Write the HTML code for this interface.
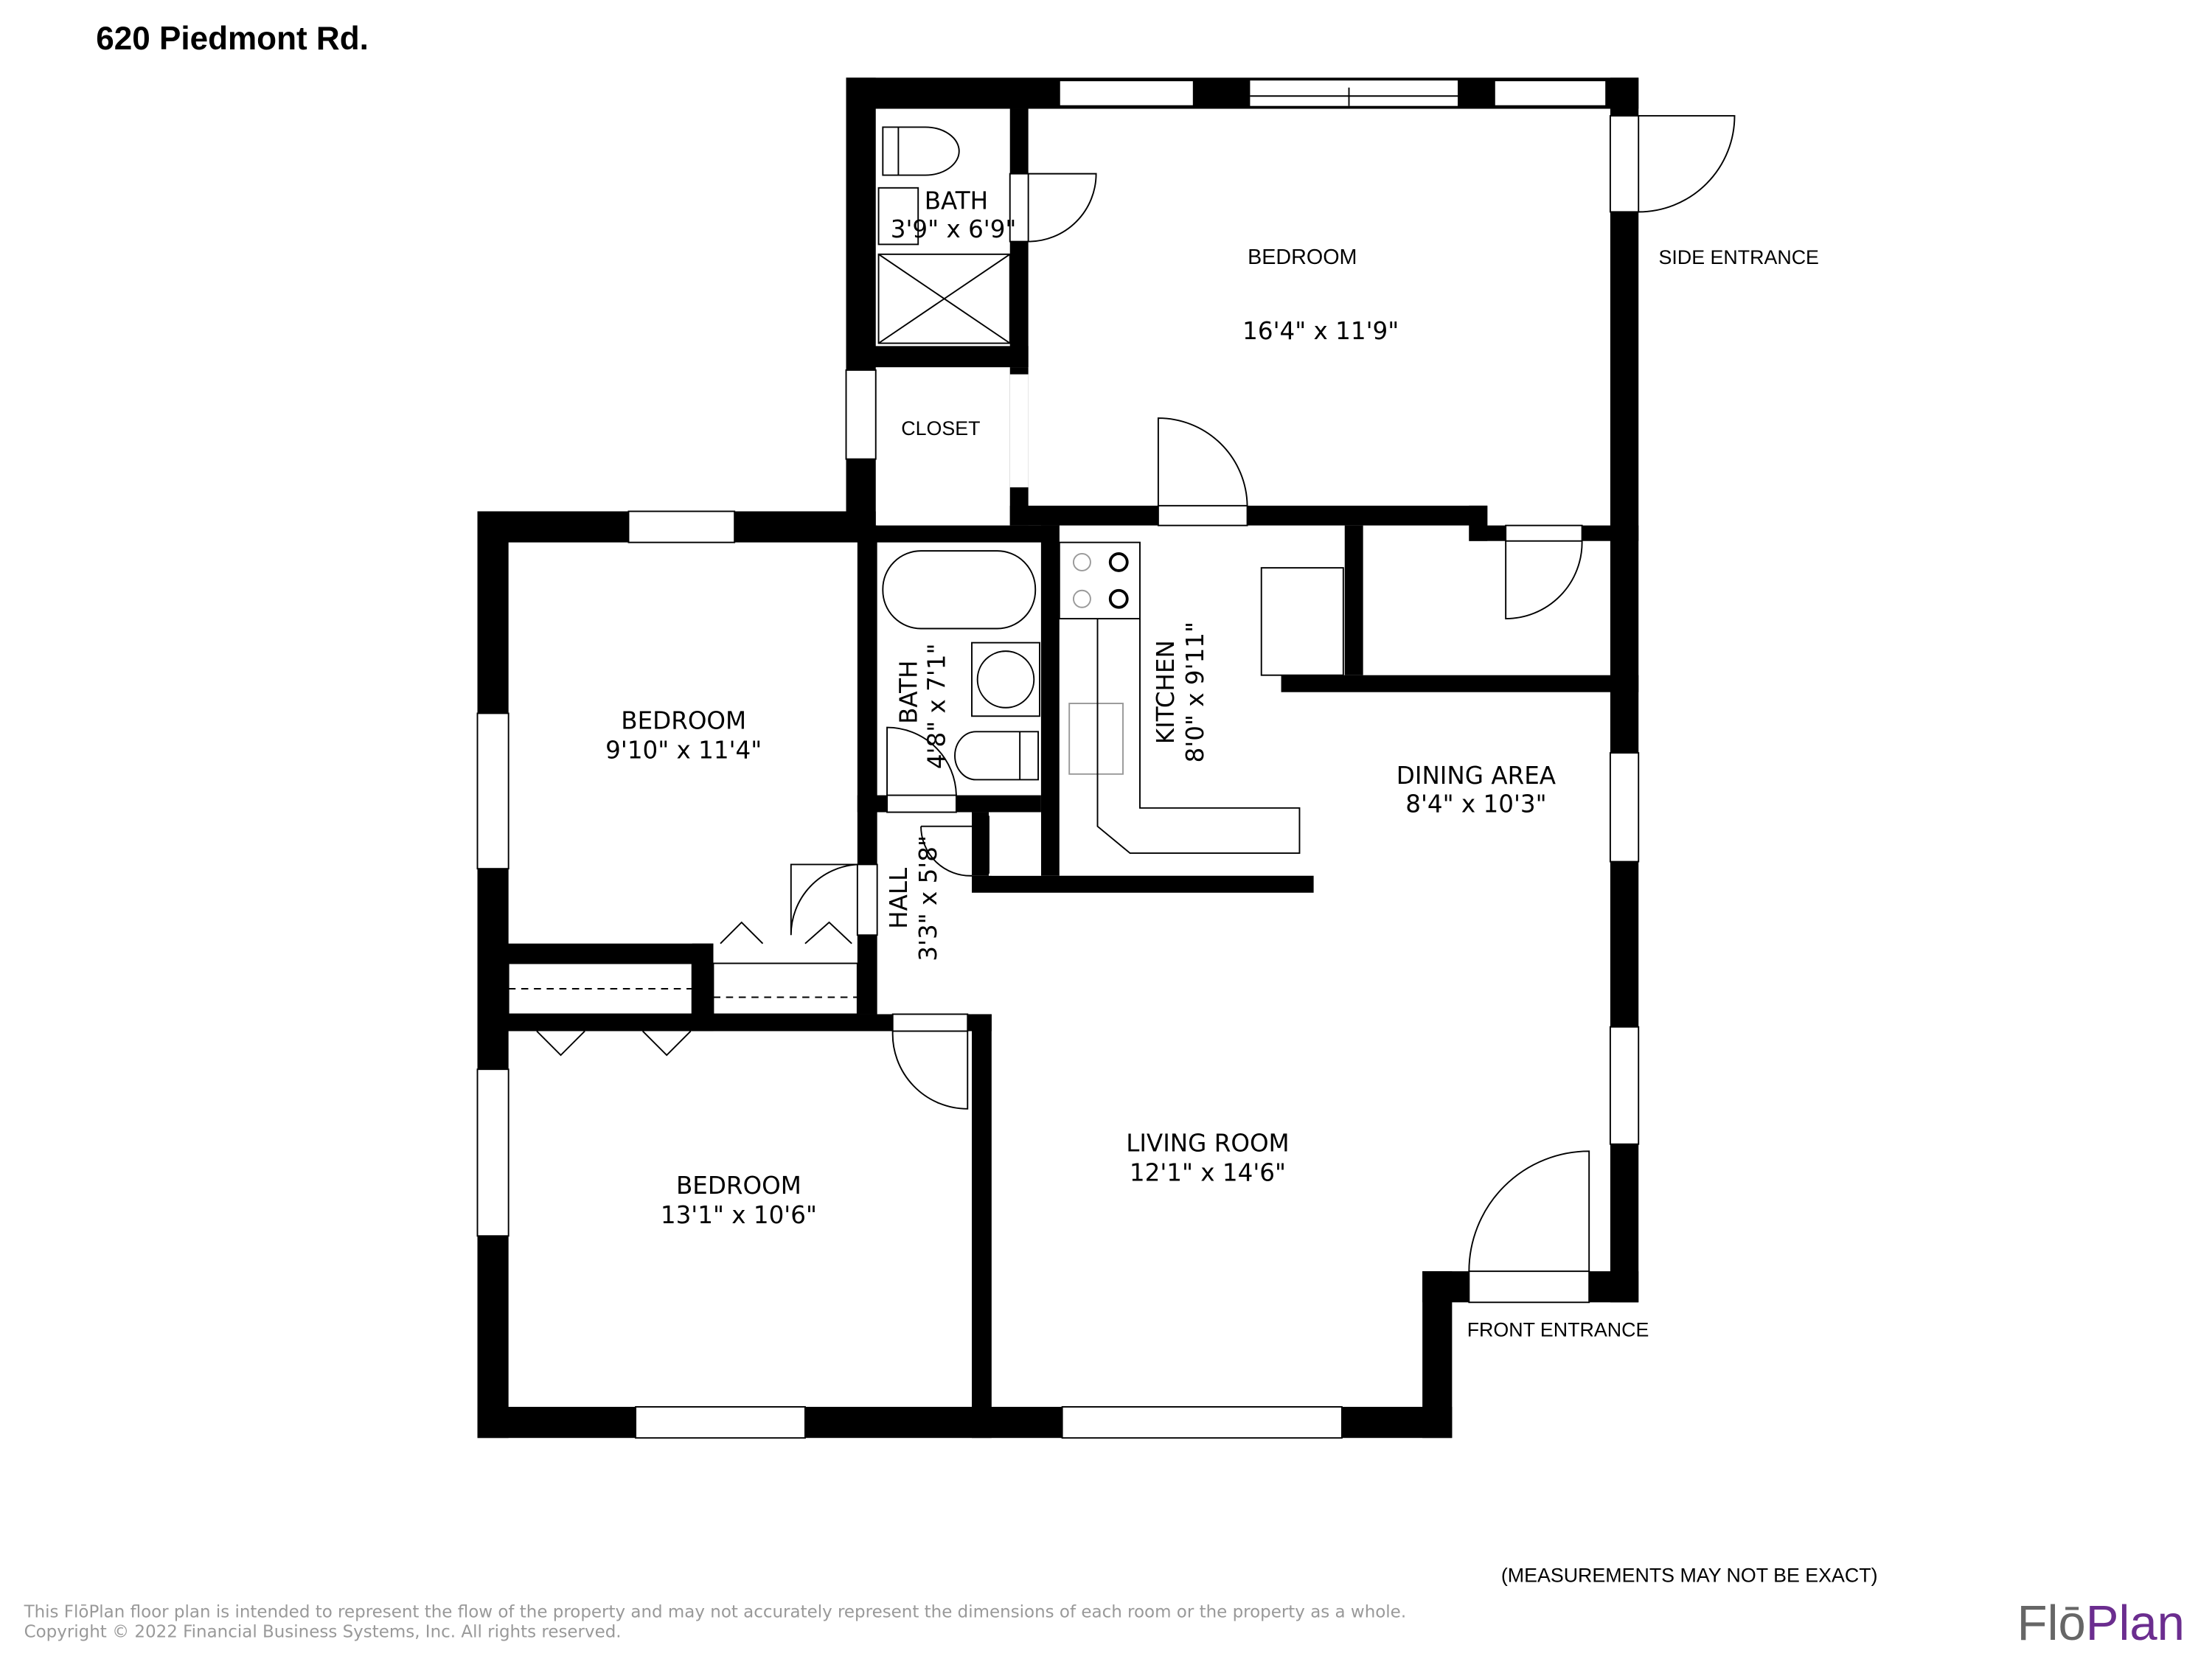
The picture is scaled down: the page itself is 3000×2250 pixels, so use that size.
<!DOCTYPE html>
<html><head><meta charset="utf-8"><style>
html,body{margin:0;padding:0;background:#fff;}
svg{display:block;}
text{font-family:"DejaVu Sans","Liberation Sans",sans-serif;fill:#000;}
.a{font-family:"Liberation Sans",sans-serif;}
</style></head><body>
<svg width="3000" height="2250" viewBox="0 0 1566 1174.5" xmlns="http://www.w3.org/2000/svg">
<rect width="1566" height="1175" fill="#fff"/>
<text x="68" y="35" class="a" font-size="23" font-weight="bold">620 Piedmont Rd.</text>
<g fill="#000">
<rect x="599" y="55" width="561" height="22"/>
<rect x="599" y="55" width="21" height="317"/>
<rect x="1140" y="55" width="20" height="867"/>
<rect x="715" y="77" width="13" height="183"/>
<rect x="599" y="245" width="129" height="15"/>
<rect x="715" y="260" width="13" height="112"/>
<rect x="715" y="358" width="338" height="14"/>
<rect x="1040" y="358" width="13" height="25"/>
<rect x="1040" y="372" width="120" height="11"/>
<rect x="338" y="362" width="282" height="22"/>
<rect x="338" y="362" width="22" height="656"/>
<rect x="607" y="372" width="143" height="12"/>
<rect x="607" y="372" width="14" height="346"/>
<rect x="737" y="372" width="13" height="248"/>
<rect x="607" y="563" width="130" height="12"/>
<rect x="688" y="575" width="14" height="45"/>
<rect x="688" y="620" width="242" height="12"/>
<rect x="952" y="372" width="13" height="106"/>
<rect x="907" y="478" width="253" height="12"/>
<rect x="338" y="668" width="167" height="14"/>
<rect x="490" y="668" width="15" height="62"/>
<rect x="338" y="718" width="364" height="12"/>
<rect x="688" y="718" width="14" height="300"/>
<rect x="338" y="996" width="690" height="22"/>
<rect x="1007" y="900" width="21" height="118"/>
<rect x="1007" y="900" width="153" height="22"/>
</g>
<g fill="#fff" stroke="#000" stroke-width="1">
<rect x="750" y="57" width="95" height="18"/>
<rect x="1058" y="57" width="79" height="18"/>
<rect x="885" y="57" width="147" height="18" stroke="none"/>
<rect x="1140" y="82" width="20" height="68"/>
<rect x="715" y="123" width="13" height="48"/>
<rect x="599" y="262" width="21" height="63"/>
<rect x="820" y="358" width="63" height="14"/>
<rect x="1066" y="372" width="54" height="11"/>
<rect x="445" y="362" width="75" height="22"/>
<rect x="338" y="505" width="22" height="110"/>
<rect x="338" y="757" width="22" height="118"/>
<rect x="1140" y="533" width="20" height="77"/>
<rect x="1140" y="727" width="20" height="83"/>
<rect x="628" y="563" width="49" height="12"/>
<rect x="607" y="612" width="14" height="50"/>
<rect x="632" y="718" width="53" height="12"/>
<rect x="450" y="996" width="120" height="22"/>
<rect x="752" y="996" width="198" height="22"/>
<rect x="1040" y="900" width="85" height="22"/>
<rect x="715" y="265" width="13" height="80" stroke="none"/>
<rect x="360" y="682" width="130" height="36"/>
<rect x="505" y="682" width="102" height="36"/>
<rect x="700" y="575" width="37" height="45" stroke="none"/>
</g>
<g fill="none" stroke="#000" stroke-width="1">
<line x1="885" y1="68" x2="1032" y2="68"/><line x1="955" y1="62" x2="955" y2="75"/>
<line x1="360" y1="700" x2="490" y2="700" stroke-dasharray="5,4"/>
<line x1="505" y1="706" x2="607" y2="706" stroke-dasharray="5,4"/>
<path d="M1160 82 H1228 A68 68 0 0 1 1160 150"/>
<path d="M728 123 H776 A48 48 0 0 1 728 171"/>
<path d="M820 358 V296 A63 63 0 0 1 883 358"/>
<path d="M1066 383 V438 A54 54 0 0 0 1120 383"/>
<path d="M628 563 V515 A49 49 0 0 1 677 563"/>
<path d="M607 612 H560 V662 A50 50 0 0 1 607 612"/>
<path d="M685 730 V785 A53 53 0 0 1 632 730"/>
<path d="M1040 900 A85 85 0 0 1 1125 815 V900"/>
<path d="M652 585 A35 35 0 0 0 688 620"/><path d="M652 585 H688"/>
<rect x="690" y="578" width="10" height="40"/>
<path d="M510 668 L525 653 L540 668 M570 668 L587 653 L603 668"/>
<path d="M380 730 L397 747 L414 730 M455 730 L472 747 L489 730"/>
<path d="M625 90 h30 a24 17 0 0 1 0 34 h-30 z"/><line x1="636" y1="90" x2="636" y2="124"/>
<rect x="622" y="133" width="28" height="40"/>
<rect x="622" y="180" width="93" height="63"/><line x1="622" y1="180" x2="715" y2="243"/><line x1="715" y1="180" x2="622" y2="243"/>
<rect x="625" y="390" width="108" height="55" rx="27"/>
<rect x="688" y="455" width="48" height="52"/><circle cx="712" cy="481" r="20"/>
<path d="M735 518 h-44 a15 17 0 0 0 0 34 h44 z"/><line x1="722" y1="518" x2="722" y2="552"/>
<rect x="750" y="384" width="57" height="54"/>
<circle cx="766" cy="398" r="6" stroke="#999"/><circle cx="766" cy="424" r="6" stroke="#999"/>
<circle cx="792" cy="398" r="6" stroke-width="2"/><circle cx="792" cy="424" r="6" stroke-width="2"/>
<rect x="757" y="498" width="38" height="50" stroke="#999"/>
<path d="M777 438 V585 L800 604 H920 V572 H807 V438"/>
<rect x="893" y="402" width="58" height="76"/>
</g>
<g font-size="17" text-anchor="middle">
<text x="922" y="187" class="a" font-size="15">BEDROOM</text>
<text x="935" y="240">16'4" x 11'9"</text>
<text x="677" y="148">BATH</text>
<text x="675" y="168">3'9" x 6'9"</text>
<text x="666" y="308" class="a" font-size="14">CLOSET</text>
<text x="1231" y="187" class="a" font-size="14">SIDE ENTRANCE</text>
<text x="484" y="516">BEDROOM</text>
<text x="484" y="537">9'10" x 11'4"</text>
<text x="1045" y="555">DINING AREA</text>
<text x="1045" y="575">8'4" x 10'3"</text>
<text x="855" y="815">LIVING ROOM</text>
<text x="855" y="836">12'1" x 14'6"</text>
<text x="523" y="845">BEDROOM</text>
<text x="523" y="866">13'1" x 10'6"</text>
<text x="1103" y="946" class="a" font-size="14">FRONT ENTRANCE</text>
<text transform="translate(649,490) rotate(-90)">BATH</text>
<text transform="translate(669,500) rotate(-90)">4'8" x 7'1"</text>
<text transform="translate(831,490) rotate(-90)">KITCHEN</text>
<text transform="translate(852,490) rotate(-90)">8'0" x 9'11"</text>
<text transform="translate(642,636) rotate(-90)">HALL</text>
<text transform="translate(663,636) rotate(-90)">3'3" x 5'8"</text>
</g>
<text x="1208" y="1120" class="a" font-size="14" text-anchor="middle" transform="translate(-12,0)">(MEASUREMENTS MAY NOT BE EXACT)</text>
<text x="17" y="1145" font-size="12" style="fill:#999">This FlōPlan floor plan is intended to represent the flow of the property and may not accurately represent the dimensions of each room or the property as a whole.</text>
<text x="17" y="1159" font-size="12" style="fill:#999">Copyright © 2022 Financial Business Systems, Inc. All rights reserved.</text>
<text x="1428" y="1161" class="a" font-size="35"><tspan style="fill:#666">Flō</tspan><tspan style="fill:#6b2d8f">Plan</tspan></text>
</svg>
</body></html>
